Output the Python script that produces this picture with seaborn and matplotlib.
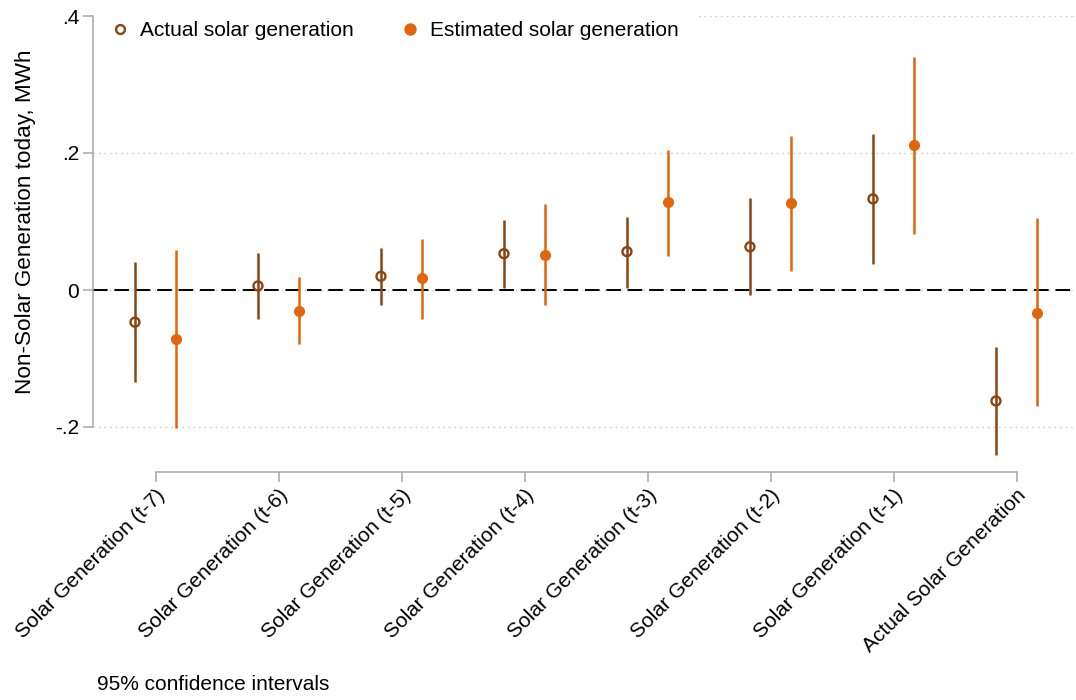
import numpy as np
import pandas as pd
import matplotlib
matplotlib.use('Agg')
import matplotlib.pyplot as plt
import matplotlib.ticker as mticker
from matplotlib.lines import Line2D
import seaborn as sns

# ---------------------------------------------------------------------------
# Data (coefficients and 95% CIs)
# ---------------------------------------------------------------------------

categories = ['Solar Generation (t-7)', 'Solar Generation (t-6)', 'Solar Generation (t-5)',
              'Solar Generation (t-4)', 'Solar Generation (t-3)', 'Solar Generation (t-2)',
              'Solar Generation (t-1)', 'Actual Solar Generation']

actual_coef = [-0.047, 0.006, 0.020, 0.053, 0.056, 0.063, 0.133, -0.162]
actual_lo = [-0.135, -0.042, -0.022, 0.003, 0.003, -0.008, 0.038, -0.241]
actual_hi = [0.041, 0.054, 0.062, 0.102, 0.107, 0.134, 0.228, -0.083]

est_coef = [-0.072, -0.030, 0.017, 0.051, 0.128, 0.127, 0.211, -0.033]
est_lo = [-0.201, -0.079, -0.042, -0.022, 0.050, 0.028, 0.082, -0.170]
est_hi = [0.058, 0.019, 0.074, 0.125, 0.205, 0.225, 0.340, 0.105]

y_ticks = [-0.2, 0, 0.2, 0.4]

BROWN = '#8b4513'
ORANGE = '#e0650b'
GRID = '#c4c4c4'
AXIS = '#a6a6a6'
FS = 15

# ---------------------------------------------------------------------------
# Style
# ---------------------------------------------------------------------------

sns.set_theme(style='white')
plt.rcParams['font.family'] = ['Liberation Sans', 'DejaVu Sans']
plt.rcParams['font.size'] = FS
plt.rcParams['text.color'] = 'black'
plt.rcParams['axes.labelcolor'] = 'black'

fig = plt.figure(figsize=(10.76, 7), dpi=100)
ax = fig.add_axes([93 / 1076, 1 - 461.25 / 700, 983 / 1076, 445.25 / 700])

idx = np.arange(len(categories))
dodge = 0.167
df_act = pd.DataFrame({'x': idx - dodge, 'coef': actual_coef, 'lo': actual_lo, 'hi': actual_hi})
df_est = pd.DataFrame({'x': idx + dodge, 'coef': est_coef, 'lo': est_lo, 'hi': est_hi})

# gridlines + zero line
for yv in y_ticks:
    ax.axhline(yv, color=GRID, linestyle=(0, (1, 3)), linewidth=1.0, zorder=0)
ax.axhline(0, color='black', linewidth=1.4, linestyle=(0, (7.5, 3.5)), zorder=1)

# confidence intervals
ax.vlines(df_act['x'], df_act['lo'], df_act['hi'], color=BROWN, linewidth=1.8, zorder=2)
ax.vlines(df_est['x'], df_est['lo'], df_est['hi'], color=ORANGE, linewidth=1.8, zorder=2)

# point estimates
sns.scatterplot(data=df_act, x='x', y='coef', ax=ax, s=42, marker='o',
                facecolor='none', edgecolor=BROWN, linewidth=1.7, zorder=3)
sns.scatterplot(data=df_est, x='x', y='coef', ax=ax, s=64, marker='o',
                color=ORANGE, edgecolor=ORANGE, linewidth=0, zorder=3)

ax.set_xlim(-62.5 / 123, (1076 - 155.5) / 123)
ax.set_ylim(-0.25, 0.4)
ax.set_xticks(idx)
ax.set_yticks(y_ticks)

for sp in ax.spines.values():
    sp.set_color(AXIS)
    sp.set_linewidth(1.1)
sns.despine(ax=ax, offset={'bottom': 7.7}, trim=True)

ax.set_xticks(idx)
ax.set_xticklabels(categories, rotation=45, ha='right', rotation_mode='anchor')
ax.yaxis.set_major_formatter(mticker.FuncFormatter(
    lambda v, p: '0' if abs(v) < 1e-9 else f'{v:.1f}'.replace('0.', '.')))
ax.tick_params(axis='both', which='major', length=7, width=1.1, color=AXIS,
               labelsize=FS, labelcolor='black', pad=3, left=True, bottom=True)

ax.set_xlabel('')
ax.set_ylabel('Non-Solar Generation today, MWh', fontsize=16.2)
ax.yaxis.set_label_coords(-0.058, (461.25 - 221.5) / 445.25)

# legend
handles = [
    Line2D([], [], linestyle='none', marker='o', markersize=6.4, markerfacecolor='none',
           markeredgecolor=BROWN, markeredgewidth=1.7),
    Line2D([], [], linestyle='none', marker='o', markersize=7.9, markerfacecolor=ORANGE,
           markeredgecolor=ORANGE),
]
leg = ax.legend(handles, ['Actual solar generation', 'Estimated solar generation'],
                ncol=2, loc='center left', bbox_to_anchor=(0.0, (461.25 - 31) / 445.25),
                borderaxespad=0, borderpad=0.8, handlelength=1.0, handletextpad=0.46,
                columnspacing=2.2, frameon=True, fontsize=FS)
leg.get_frame().set_facecolor('white')
leg.get_frame().set_edgecolor('none')
leg.get_frame().set_alpha(1)
leg.set_zorder(1.5)

fig.text(97 / 1076, 1 - 685 / 700, '95% confidence intervals', fontsize=FS,
         ha='left', va='center')

fig.savefig('out.png', dpi=100)
